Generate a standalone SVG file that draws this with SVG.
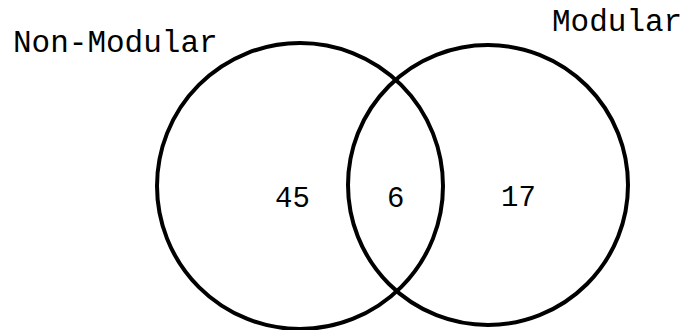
<svg xmlns="http://www.w3.org/2000/svg" width="682" height="330" viewBox="0 0 682 330">
<style>
.c{fill:none;stroke:#000;stroke-width:4}
.t{font-family:"Liberation Mono","Courier New",monospace;font-size:31px;fill:#000}
.n{font-family:"Liberation Mono","Courier New",monospace;font-size:29px;fill:#000}
</style>
<rect width="682" height="330" fill="#fff"/>
<g id="connectors"></g>
<g id="non-modular">
<circle class="c" cx="300" cy="186" r="143"/>
<text class="t" x="13" y="52">Non-Modular</text>
</g>
<g id="modular">
<circle class="c" cx="488" cy="185" r="140"/>
<text class="t" x="552" y="31">Modular</text>
</g>
<g id="counts">
<text class="n" x="275" y="207">45</text>
<text class="n" x="387" y="207">6</text>
<text class="n" x="501" y="206">17</text>
</g>
</svg>
